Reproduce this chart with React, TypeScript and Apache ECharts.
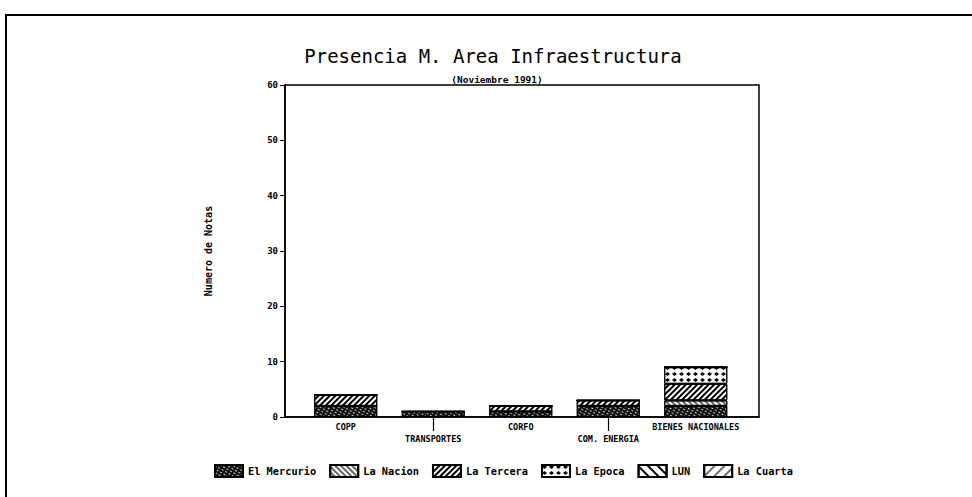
import React, { useEffect, useRef } from "react";
import * as echarts from "echarts";

const categories = ["COPP", "TRANSPORTES", "CORFO", "COM. ENERGIA", "BIENES NACIONALES"];
const seriesNames = ["El Mercurio", "La Nacion", "La Tercera", "La Epoca", "LUN", "La Cuarta"];
const elMercurio = [2, 1, 1, 2, 2];
const laNacion = [0, 0, 0, 0, 1];
const laTercera = [2, 0, 1, 1, 3];
const laEpoca = [0, 0, 0, 0, 3];
const lun = [0, 0, 0, 0, 0];
const laCuarta = [0, 0, 0, 0, 0];
const yTicks = [0, 10, 20, 30, 40, 50, 60];

const FONT = "DejaVu Sans Mono";

export default function App() {
  const ref = useRef<HTMLDivElement>(null);
  useEffect(() => {
    if (!ref.current) return;
    const chart = echarts.init(ref.current, undefined, { renderer: "svg" });
    const values = [elMercurio, laNacion, laTercera, laEpoca, lun, laCuarta];
    const decals: any[] = [
      { color: "#fff", symbol: "rect", symbolSize: 0.8, dashArrayX: [2, 2], dashArrayY: [1, 2] },
      { color: "#000", symbol: "rect", dashArrayX: [1, 0], dashArrayY: [2, 2], rotation: Math.PI / 4 },
      { color: "#000", symbol: "rect", dashArrayX: [1, 0], dashArrayY: [2, 2], rotation: -Math.PI / 4 },
      { color: "#000", symbol: "diamond", symbolSize: 1, dashArrayX: [5, 2], dashArrayY: [4, 2] },
      { color: "#000", symbol: "rect", dashArrayX: [1, 0], dashArrayY: [2, 5], rotation: Math.PI / 4 },
      { color: "#000", symbol: "rect", dashArrayX: [1, 0], dashArrayY: [2, 5], rotation: -Math.PI / 4 },
    ];
    const series = seriesNames.map((name, si) => ({
      name,
      type: "bar",
      stack: "total",
      xAxisIndex: 1,
      yAxisIndex: 1,
      barWidth: 63,
      itemStyle: {
        color: si === 0 ? "#111" : "#fff",
        borderColor: "#000",
        borderWidth: 1,
        decal: decals[si],
      },
      data: values[si],
    }));
    chart.setOption({
      animation: false,
      backgroundColor: "#fff",
      aria: { enabled: true, decal: { show: true } },
      title: [
        {
          text: "Presencia M. Area Infraestructura",
          left: 488,
          top: 41,
          textAlign: "center",
          textStyle: { fontFamily: FONT, fontSize: 19, fontWeight: "normal", color: "#000" },
        },
        {
          text: "(Noviembre 1991)",
          left: 492,
          top: 69,
          textAlign: "center",
          textStyle: { fontFamily: FONT, fontSize: 9.5, fontWeight: "bold", color: "#000" },
        },
      ],
      grid: [
        {
          left: 285,
          top: 85,
          width: 474,
          height: 332,
          show: true,
          borderColor: "#000",
          borderWidth: 1.5,
          backgroundColor: "transparent",
        },
        {
          left: 302,
          top: 85,
          width: 437.5,
          height: 332,
        },
      ],
      legend: {
        data: seriesNames,
        left: 209,
        top: 459,
        icon: "rect",
        itemWidth: 28,
        itemHeight: 12,
        itemGap: 13,
        textStyle: { fontFamily: FONT, fontSize: 10.3, fontWeight: "bold", color: "#000" },
      },
      xAxis: [
        {
          type: "value",
          gridIndex: 0,
          min: 0,
          max: 1,
          splitLine: { show: false },
          axisLine: { show: true, onZero: false, lineStyle: { color: "#000", width: 1.5 } },
          axisTick: { show: false },
          axisLabel: { show: false },
        },
        {
          type: "category",
          gridIndex: 1,
          data: categories,
          axisLine: { show: false },
          axisTick: {
            show: true,
            alignWithLabel: true,
            interval: (i: number) => i % 2 === 1,
            length: 14,
            lineStyle: { color: "#000", width: 1.2 },
          },
          axisLabel: {
            interval: 0,
            margin: 4,
            fontFamily: FONT,
            fontSize: 8.5,
            fontWeight: "bold",
            color: "#000",
            lineHeight: 12,
            formatter: (v: string, i: number) => (i % 2 === 1 ? "\n" + v : v),
          },
        },
      ],
      yAxis: [
        {
          type: "value",
          gridIndex: 0,
          min: 0,
          max: 60,
          interval: 10,
          name: "Numero de Notas",
          nameLocation: "middle",
          nameGap: 72,
          nameTextStyle: { fontFamily: FONT, fontSize: 10, fontWeight: "bold", color: "#000" },
          splitLine: { show: false },
          axisLine: { show: true, onZero: false, lineStyle: { color: "#000", width: 1.5 } },
          axisTick: { show: true, length: 5, lineStyle: { color: "#000" } },
          axisLabel: {
            margin: 7,
            fontFamily: FONT,
            fontSize: 9,
            fontWeight: "bold",
            color: "#000",
            formatter: (v: number) => (yTicks.includes(v) ? String(v) : ""),
          },
        },
        {
          type: "value",
          gridIndex: 1,
          min: 0,
          max: 60,
          interval: 10,
          show: false,
          splitLine: { show: false },
        },
      ],
      graphic: [
        { type: "line", shape: { x1: 5, y1: 15, x2: 972, y2: 15 }, style: { stroke: "#000", lineWidth: 2 } },
        { type: "line", shape: { x1: 6, y1: 15, x2: 6, y2: 497 }, style: { stroke: "#000", lineWidth: 2 } },
      ],
      series,
    });
    return () => chart.dispose();
  }, []);
  return (
    <div
      ref={ref}
      style={{ position: "fixed", left: 0, top: 0, width: 972, height: 497 }}
    />
  );
}
